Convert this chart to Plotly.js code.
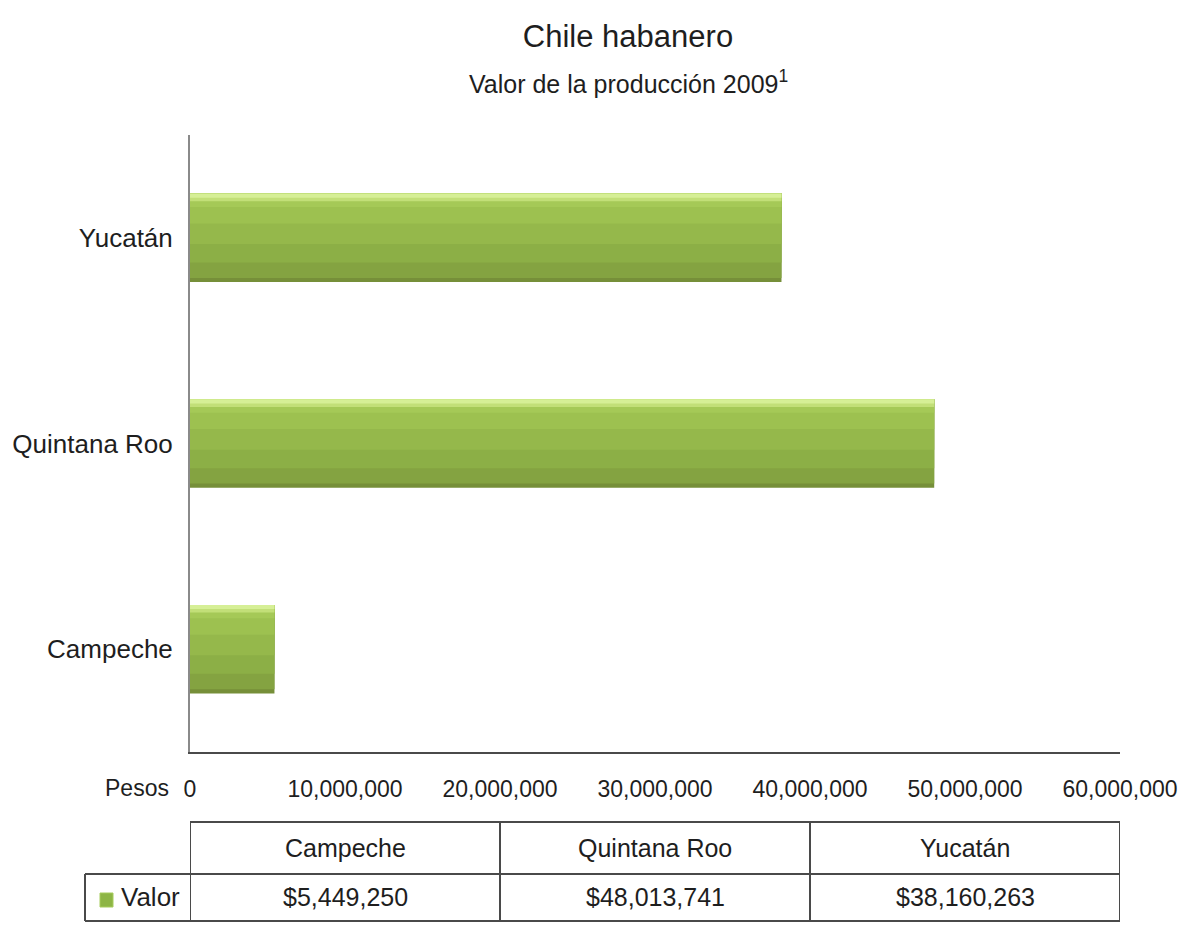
<!DOCTYPE html>
<html>
<head>
<meta charset="utf-8">
<script src="https://cdn.plot.ly/plotly-3.0.1.min.js"></script>
<style>html,body{margin:0;padding:0;background:#fff;}#chart{width:1178px;height:926px;}</style>
</head>
<body>
<div id="chart"></div>
<script>
// ---- data ----
const states = ['Campeche', 'Quintana Roo', 'Yucatán'];
const valores = [5449250, 48013741, 38160263];
const tickVals = [0, 10000000, 20000000, 30000000, 40000000, 50000000, 60000000];
const tickText = ['0', '10,000,000', '20,000,000', '30,000,000', '40,000,000', '50,000,000', '60,000,000'];
const seriesName = 'Valor';
const unitLabel = 'Pesos';
const titleText = 'Chile habanero';
const subtitleText = 'Valor de la producción 2009<sup>1</sup>';

// ---- styles ----
const FONT = 'Liberation Sans, Arial, sans-serif';
const TXT = '#1e1e1e';
const LINE = '#4a4a4a';
// nested gradient layers for bars: [offsetFrom, color]; every layer runs up to the bar's top edge
const HALF = 0.215;
const bands = [
  [-0.215, '#768f39'],
  [-0.195, '#84a341'],
  [-0.12, '#8caf46'],
  [-0.03, '#95b84b'],
  [0.07, '#9dc150'],
  [0.15, '#a5c957'],
  [0.178, '#c2df78'],
  [0.195, '#d6ef96']
];

const traces = bands.map(b => ({
  type: 'bar', orientation: 'h',
  x: valores, y: states,
  offset: b[0], width: HALF - b[0],
  marker: {color: b[1], line: {width: 0}},
  hoverinfo: 'skip', showlegend: false
}));

// table geometry (paper y coords, x in data units aligned with axis)
const plotTopPx = 135, plotBotPx = 752;
const py = p => (plotBotPx - p) / (plotBotPx - plotTopPx);
const px = p => (p - 190) / 930;
const rowTop = py(822), rowMid = py(874), rowBot = py(921);
const colEdges = [0, 20000000, 40000000, 60000000];
const leftEdgePaper = px(85);

const shapes = [];
const L = {color: LINE, width: 2};
shapes.push({type: 'line', xref: 'x', yref: 'paper', x0: colEdges[0], x1: colEdges[3], y0: rowTop, y1: rowTop, line: L});
shapes.push({type: 'line', xref: 'paper', yref: 'paper', x0: leftEdgePaper, x1: 1.0, y0: rowMid, y1: rowMid, line: L});
shapes.push({type: 'line', xref: 'paper', yref: 'paper', x0: leftEdgePaper, x1: 1.0, y0: rowBot, y1: rowBot, line: L});
colEdges.forEach(c => shapes.push({type: 'line', xref: 'x', yref: 'paper', x0: c, x1: c, y0: rowTop, y1: rowBot, line: L}));
shapes.push({type: 'line', xref: 'paper', yref: 'paper', x0: leftEdgePaper, x1: leftEdgePaper, y0: rowMid, y1: rowBot, line: L});
// legend key
shapes.push({type: 'rect', xref: 'paper', yref: 'paper', x0: px(100), x1: px(113), y0: py(907), y1: py(893), fillcolor: '#8db545', line: {color: '#a6cc5c', width: 1}});

const annotations = [];
annotations.push({xref: 'paper', yref: 'paper', x: px(628), y: py(82), xanchor: 'center', yanchor: 'middle', text: subtitleText, showarrow: false, font: {family: FONT, size: 25, color: TXT}});
annotations.push({xref: 'paper', yref: 'paper', x: px(171), y: py(788), xanchor: 'right', yanchor: 'middle', text: unitLabel, showarrow: false, font: {family: FONT, size: 23, color: TXT}});
annotations.push({xref: 'paper', yref: 'paper', x: px(119), y: py(897), xanchor: 'left', yanchor: 'middle', text: seriesName, showarrow: false, font: {family: FONT, size: 26, color: TXT}});
states.forEach((s, i) => {
  const cx = (colEdges[i] + colEdges[i + 1]) / 2;
  annotations.push({xref: 'x', yref: 'paper', x: cx, y: py(848), xanchor: 'center', yanchor: 'middle', text: s, showarrow: false, font: {family: FONT, size: 25, color: TXT}});
  annotations.push({xref: 'x', yref: 'paper', x: cx, y: py(897), xanchor: 'center', yanchor: 'middle', text: '$' + valores[i].toLocaleString('en-US'), showarrow: false, font: {family: FONT, size: 25, color: TXT}});
});

const layout = {
  width: 1178, height: 926,
  paper_bgcolor: '#ffffff', plot_bgcolor: '#ffffff',
  margin: {l: 190, r: 58, t: plotTopPx, b: 926 - plotBotPx, pad: 0},
  barmode: 'overlay',
  showlegend: false,
  title: {text: titleText, x: px(628), xref: 'paper', xanchor: 'center', y: 1 - 36 / 926, yanchor: 'middle', yref: 'container', font: {family: FONT, size: 31, color: TXT}},
  xaxis: {
    range: [0, 60000000], tickvals: tickVals, ticktext: tickText,
    showgrid: false, zeroline: false, showline: true, linecolor: LINE, linewidth: 2,
    ticks: '', ticklabelstandoff: 15,
    tickfont: {family: FONT, size: 23, color: TXT}, fixedrange: true
  },
  yaxis: {
    type: 'category', categoryorder: 'array', categoryarray: states,
    showgrid: false, zeroline: false, showline: true, linecolor: '#8a8a8a', linewidth: 2,
    ticks: '', ticklabelstandoff: 10,
    tickfont: {family: FONT, size: 26, color: TXT}, fixedrange: true
  },
  shapes: shapes,
  annotations: annotations
};

Plotly.newPlot('chart', traces, layout, {displayModeBar: false, staticPlot: true});
</script>
</body>
</html>
